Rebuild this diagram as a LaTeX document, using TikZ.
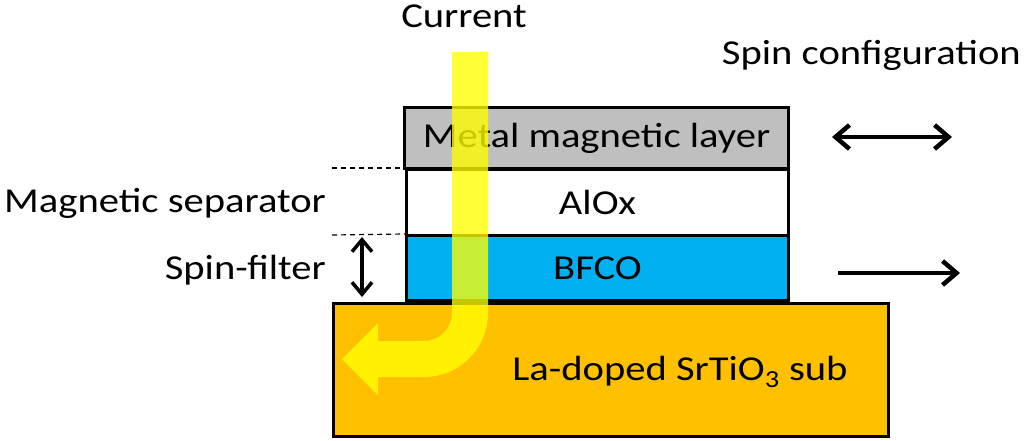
\documentclass[tikz,border=0pt]{standalone}
\usepackage{fontspec}
\setmainfont{Carlito}[FakeStretch=1.16]
\usetikzlibrary{arrows.meta}
\definecolor{lgray}{HTML}{BFBFBF}
\definecolor{lblue}{HTML}{00B0F0}
\definecolor{lorange}{HTML}{FFC000}
\definecolor{lyellow}{HTML}{FFFF00}
\begin{document}
\begin{tikzpicture}[x=1pt,y=-1pt,
  txt/.style={font=\fontsize{35}{42}\selectfont, inner sep=0pt},
  layer/.style={draw=black, line width=3pt, anchor=north west, inner sep=0pt, font=\fontsize{35}{42}\selectfont},
  barb/.style={Straight Barb[length=14pt,width=24pt,line width=4.5pt]},
  vbarb/.style={Straight Barb[length=12pt,width=20pt,line width=3.5pt]},
  spinarrow/.style={line width=4.5pt, -{Straight Barb[length=14pt,width=24pt,line width=4.5pt]}},
  spinarrows/.style={line width=4.5pt, {Straight Barb[length=14pt,width=24pt,line width=4.5pt]}-{Straight Barb[length=14pt,width=24pt,line width=4.5pt]}},
  thick arrows/.style={line width=3.5pt, {Straight Barb[length=12pt,width=20pt,line width=3.5pt]}-{Straight Barb[length=12pt,width=20pt,line width=3.5pt]}},
  sep/.style={line width=1.2pt, dash pattern=on 5pt off 4pt}
]
\useasboundingbox (0,0) rectangle (1024,440);
% layers
\node[layer, fill=lorange, minimum width=555pt, minimum height=133pt] (sub) at (332,302) {};
\node[layer, fill=lblue, minimum width=382pt, minimum height=65pt] (bfco) at (405,234) {BFCO};
\node[layer, fill=white, minimum width=382pt, minimum height=66pt] (alox) at (405,168) {AlOx};
\node[layer, fill=lgray, minimum width=384pt, minimum height=61pt] (metal) at (403,106) {Metal magnetic layer};
\node[txt] (sublbl) at (680,372) {La-doped SrTiO\textsubscript{3} sub};
% left labels
\node[txt, anchor=east] (msep) at (326,203) {Magnetic separator};
\node[txt, anchor=east] (sfil) at (326,270) {Spin-filter};
\coordinate (d1) at (332,168);
\coordinate (d2) at (332,235);
\draw[sep] (d1) -- (alox.north west);
\draw[sep] (d2) -- (bfco.north west);
\coordinate (v1) at (362,237);
\coordinate (v2) at (362,297);
\draw[thick arrows] (v1) -- (v2);
% top labels
\node[txt] (cur) at (464,16) {Current};
\node[txt, anchor=east] (spinc) at (1021,55) {Spin configuration};
% spin arrows
\coordinate (a1) at (832,137);
\coordinate (a2) at (952,137);
\coordinate (b1) at (838,273);
\coordinate (b2) at (960,273);
\draw[spinarrows] (a1) -- (a2);
\draw[spinarrow] (b1) -- (b2);
% current arrow
\fill[lyellow, opacity=0.78]
  (452,52) -- (488,52) -- (488,313) arc[start angle=0, end angle=90, radius=64]
  -- (378,377) -- (378,395) -- (342,359) -- (378,323) -- (378,341) -- (424,341)
  arc[start angle=90, end angle=0, radius=28] -- cycle;
\end{tikzpicture}
\end{document}
